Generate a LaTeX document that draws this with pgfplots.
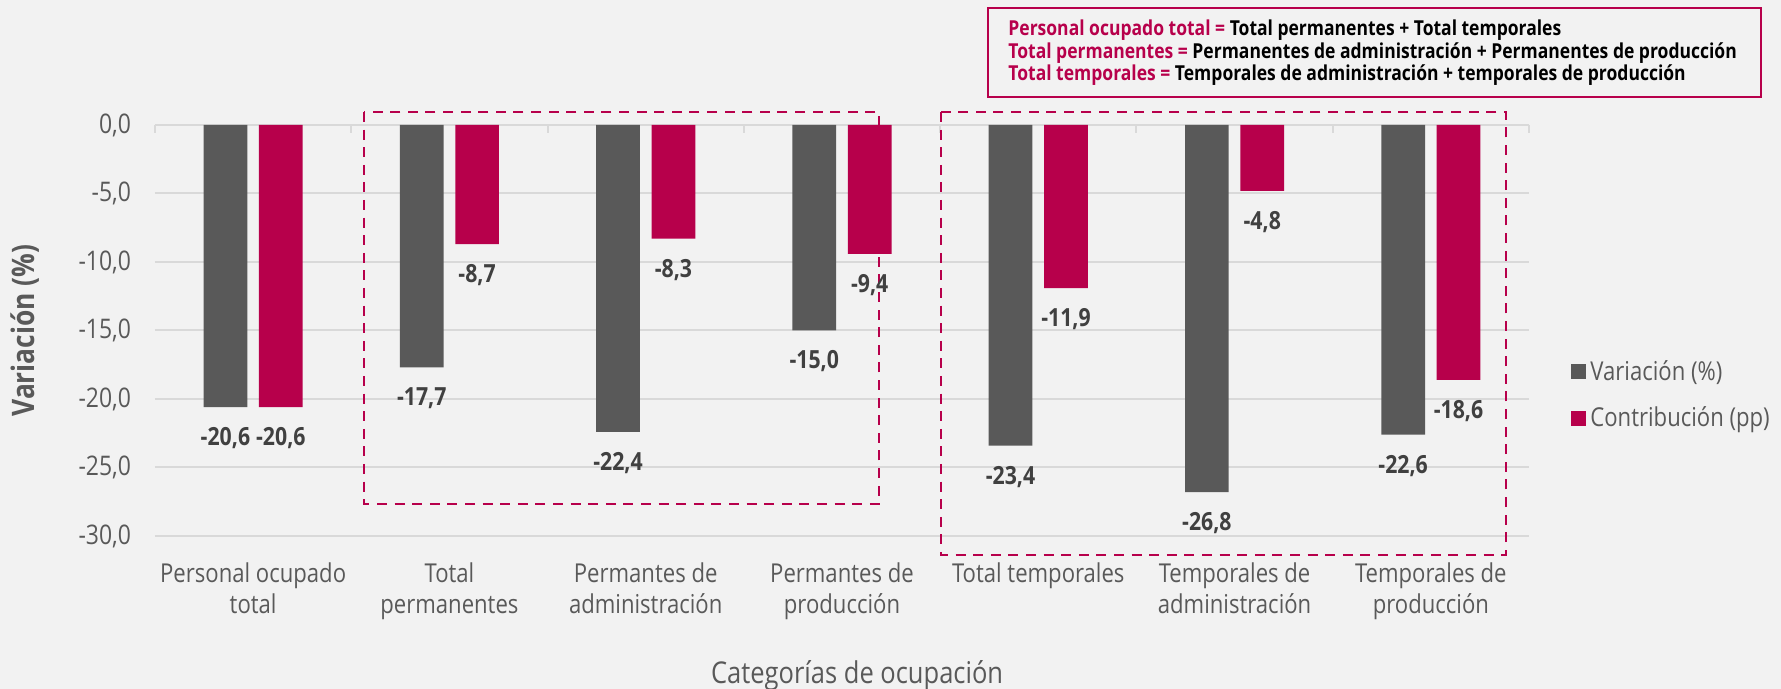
\documentclass[border=0pt]{standalone}
\usepackage{fontspec}
\setmainfont{Open Sans}[FakeStretch=0.85]
\usepackage{pgfplots}
\pgfplotsset{compat=1.18}
\definecolor{bg}{HTML}{F2F2F2}
\definecolor{bargray}{HTML}{595959}
\definecolor{barred}{HTML}{B7004B}
\definecolor{gridc}{HTML}{D9D9D9}
\definecolor{txt}{HTML}{595959}
\definecolor{lbl}{HTML}{404040}
\begin{document}
\begin{tikzpicture}
\fill[bg] (-77.5pt,-76.5pt) rectangle (813pt,268pt);
\useasboundingbox (-77.5pt,-76.5pt) rectangle (813pt,268pt);
\begin{axis}[
  at={(0pt,0pt)}, anchor=south west,
  scale only axis, width=687pt, height=205.5pt,
  xmin=-0.5, xmax=6.5, ymin=-30, ymax=0,
  clip=false,
  axis line style={draw=none},
  ytick={-30,-25,...,0},
  ymajorgrids, grid style={gridc, line width=1pt},
  major tick length=0pt,
  tick style={draw=none},
  xtick={0,...,6},
  xticklabels={{Personal ocupado\\total},{Total\\permanentes},{Permantes de\\administración},{Permantes de\\producción},{Total temporales},{Temporales de\\administración},{Temporales de\\producción}},
  xticklabel style={align=center, font=\fontsize{13}{15.5}\selectfont, text=txt, anchor=north, yshift=-10pt},
  yticklabel style={font=\fontsize{13.5}{15}\selectfont, text=txt, anchor=east, xshift=-8.5pt},
  /pgf/number format/.cd, fixed, fixed zerofill, precision=1, use comma, assume math mode=true,
  /pgfplots/.cd,
  ylabel={Variación (\%)},
  every axis y label/.style={at={(axis description cs:-0.0946,0.5)}, rotate=90, anchor=center, font=\bfseries\fontsize{15.5}{17}\selectfont, text=txt},
  xlabel={Categorías de ocupación},
  every axis x label/.style={at={(axis description cs:0.511,0)}, anchor=base, yshift=-73.5pt, font=\fontsize{15}{18}\selectfont, text=txt},
  legend style={at={(axis description cs:1.0306,0.343)}, anchor=west, draw=none, fill=none, font=\fontsize{13}{15}\selectfont, text=txt, row sep=8pt, inner sep=0pt, cells={anchor=west}},
  legend image code/.code={\fill[#1] (0pt,-3.75pt) rectangle (7.5pt,3.75pt);},
  legend cell align=left,
  nodes near coords,
  every node near coord/.append style={font=\bfseries\fontsize{12.5}{14}\selectfont, text=lbl, anchor=center, yshift=-15.5pt},
]
\addplot[ybar, fill=bargray, draw=none, bar width=21.85pt, bar shift=-13.85pt,
  every node near coord/.append style={xshift=-13.85pt}] coordinates {
  (0,-20.6) (1,-17.7) (2,-22.4) (3,-15.0) (4,-23.4) (5,-26.8) (6,-22.6)};
\addlegendentry{Variación (\%)}
\addplot[ybar, fill=barred, draw=none, bar width=21.85pt, bar shift=13.85pt,
  every node near coord/.append style={xshift=13.85pt}] coordinates {
  (0,-20.6) (1,-8.7) (2,-8.3) (3,-9.4) (4,-11.9) (5,-4.8) (6,-18.6)};
\addlegendentry{Contribución (pp)}
\draw[gridc, line width=1pt] (axis cs:-0.5,0) -- ([yshift=-4pt]axis cs:-0.5,0);
\draw[gridc, line width=1pt] (axis cs:0.5,0) -- ([yshift=-4pt]axis cs:0.5,0);
\draw[gridc, line width=1pt] (axis cs:1.5,0) -- ([yshift=-4pt]axis cs:1.5,0);
\draw[gridc, line width=1pt] (axis cs:2.5,0) -- ([yshift=-4pt]axis cs:2.5,0);
\draw[gridc, line width=1pt] (axis cs:3.5,0) -- ([yshift=-4pt]axis cs:3.5,0);
\draw[gridc, line width=1pt] (axis cs:4.5,0) -- ([yshift=-4pt]axis cs:4.5,0);
\draw[gridc, line width=1pt] (axis cs:5.5,0) -- ([yshift=-4pt]axis cs:5.5,0);
\draw[gridc, line width=1pt] (axis cs:6.5,0) -- ([yshift=-4pt]axis cs:6.5,0);
\draw[barred, line width=1.25pt, dash pattern=on 5pt off 3.8pt] (axis cs:0.566,0.95) rectangle (axis cs:3.189,-27.66);
\draw[barred, line width=1.25pt, dash pattern=on 5pt off 3.8pt] (axis cs:3.505,0.95) rectangle (axis cs:6.383,-31.39);
\end{axis}
\draw[barred, line width=1pt] (416.5pt,219.5pt) rectangle (803pt,264pt);
\begin{scope}[every node/.style={anchor=base west, inner sep=0pt, font=\bfseries\fontsize{10.3}{12}\selectfont}]
\node at (426.5pt,250pt) {\textcolor{barred}{Personal ocupado total =} Total permanentes + Total temporales};
\node at (426.5pt,238.75pt) {\textcolor{barred}{Total permanentes =} Permanentes de administración + Permanentes de producción};
\node at (426.5pt,227.5pt) {\textcolor{barred}{Total temporales =} Temporales de administración + temporales de producción};
\end{scope}
\end{tikzpicture}
\end{document}
